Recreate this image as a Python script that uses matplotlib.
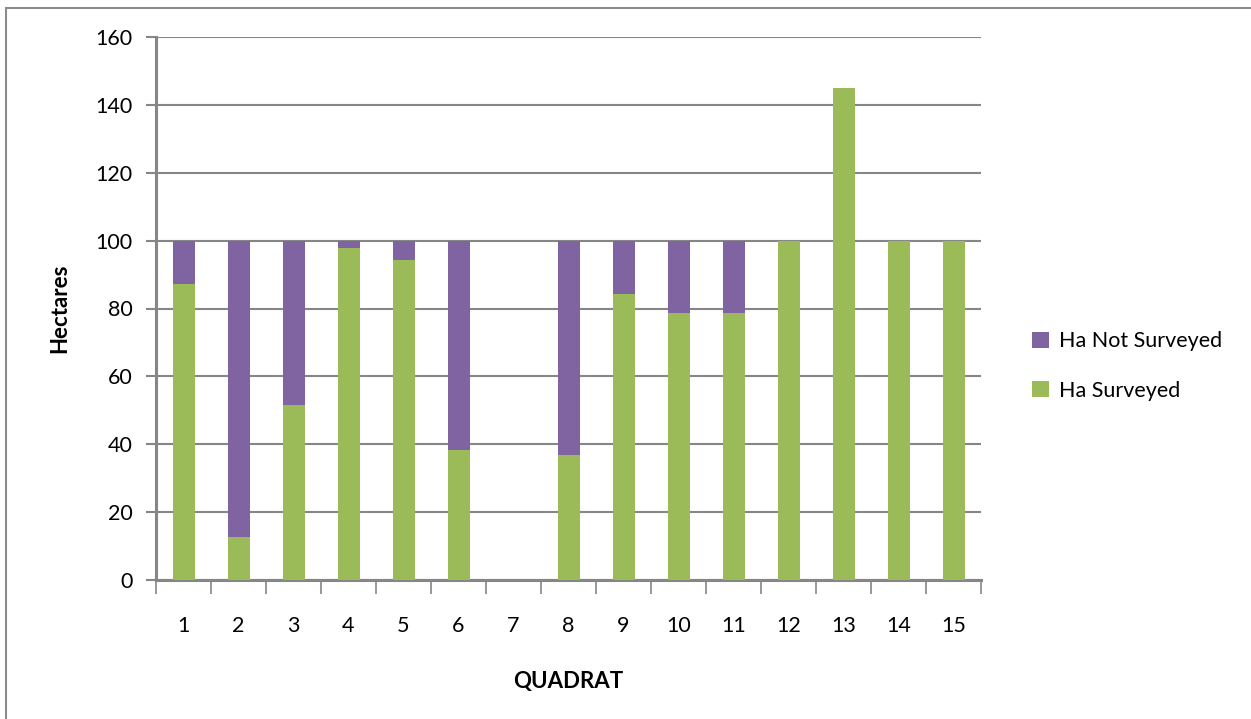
import numpy as np
import matplotlib.pyplot as plt
from matplotlib.patches import Rectangle

plt.rcParams['font.family'] = ['Lato', 'DejaVu Sans']

# Hectares per quadrat
quadrats = [str(i) for i in range(1, 16)]
ha_surveyed = [87.3, 12.7, 51.6, 97.8, 94.2, 38.2, 0, 36.7, 84.4, 78.8, 78.8, 100, 145, 100, 100]
ha_not_surveyed = [12.7, 87.3, 48.4, 2.2, 5.8, 61.8, 0, 63.3, 15.6, 21.2, 21.2, 0, 0, 0, 0]

purple = '#8064A2'
green = '#9BBB59'
grid_col = '#868686'

fig = plt.figure(figsize=(12.51, 7.19), dpi=100)
ax = fig.add_axes([156 / 1251, 1 - 580 / 719, (981 - 156) / 1251, (580 - 37) / 719])

x = np.arange(len(quadrats))
ax.bar(x, ha_surveyed, width=0.4, color=green, label='Ha Surveyed', zorder=3)
ax.bar(x, ha_not_surveyed, width=0.4, bottom=ha_surveyed, color=purple,
       label='Ha Not Surveyed', zorder=3)

ax.set_xlim(-0.5, len(quadrats) - 0.5)
ax.set_ylim(0, 160)
ax.set_yticks(np.arange(0, 161, 20))
ax.yaxis.grid(True, color=grid_col, linewidth=1.5, zorder=0)

# category labels centred, tick marks between categories
ax.set_xticks(x)
ax.set_xticklabels(quadrats)
ax.set_xticks(np.arange(-0.5, len(quadrats)), minor=True)
ax.tick_params(axis='x', which='major', length=0, pad=26, labelsize=15.5)
ax.tick_params(axis='x', which='minor', length=10, width=1.2, color=grid_col)
ax.tick_params(axis='y', length=7, width=1.5, color=grid_col, labelsize=15.5, pad=10)

for side in ['top', 'right']:
    ax.spines[side].set_visible(False)
for side in ['left', 'bottom']:
    ax.spines[side].set_color(grid_col)
    ax.spines[side].set_linewidth(2.2)

ax.set_xlabel('QUADRAT', fontsize=16, fontweight='bold', labelpad=25)
ax.set_ylabel('Hectares', fontsize=16, fontweight='bold', labelpad=18)

handles, labels = ax.get_legend_handles_labels()
fig.legend(handles[::-1], labels[::-1], loc='center left',
           bbox_to_anchor=(1013 / 1251, 1 - 366 / 719), frameon=False,
           fontsize=15.5, handlelength=0.75, handleheight=0.75,
           handletextpad=0.5, labelspacing=1.35)

# outer chart border
fig.patches.append(Rectangle((6 / 1251, -0.1), 1.2, 1 - 8 / 719 + 0.1,
                             transform=fig.transFigure, fill=False,
                             edgecolor='#8c8c8c', linewidth=1.5))

fig.savefig('out.png', dpi=100, facecolor='white')
